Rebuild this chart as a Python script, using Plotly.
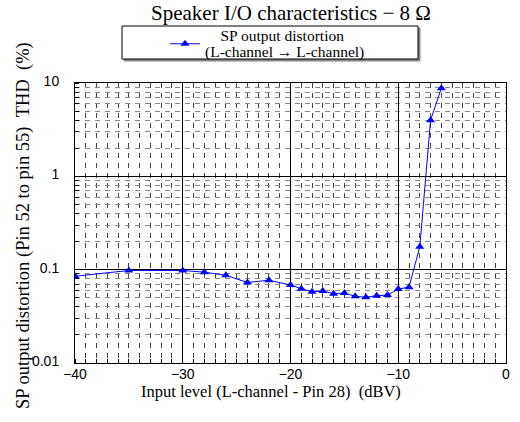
import plotly.graph_objects as go

# Data
input_level_dbv = [-40, -35, -30, -28, -26, -24, -22, -20, -19, -18, -17, -16,
                   -15, -14, -13, -12, -11, -10, -9, -8, -7, -6]
thd_percent = [0.085, 0.098, 0.098, 0.094, 0.087, 0.073, 0.077, 0.0685, 0.0625,
               0.058, 0.059, 0.0553, 0.0562, 0.0518, 0.0506, 0.0526, 0.0535,
               0.062, 0.065, 0.176, 4.0, 8.8]

x_ticks = [-40, -30, -20, -10, 0]
y_ticks = [0.01, 0.1, 1, 10]
y_tick_labels = ["0.01", "0.1", "1", "10"]

NB = "\u00a0"
title_text = "Speaker I/O characteristics \u2212 8 \u03a9"
legend_line1 = NB * 4 + "SP output distortion"
legend_line2 = "(L-channel \u2192 L-channel)"
x_title = "Input level (L-channel - Pin 28)" + NB * 2 + "(dBV)"
y_title = "SP output distortion (Pin 52 to pin 55)" + NB * 2 + "THD" + NB * 2 + "(%)"

SERIF = "Liberation Serif, Times New Roman, serif"
SANS = "Liberation Sans, Arial, sans-serif"

L, R, T, B = 75, 14, 83, 59
W, H = 520, 422
pw, ph = W - L - R, H - T - B


def px_x(v):
    return (v - L) / pw


def px_y(v):
    return (H - B - v) / ph


series_name = ('<span style="font-size:15.5px">' + legend_line1 + '</span><br>'
               '<span style="font-size:15.5px">' + legend_line2 + '</span>')

fig = go.Figure()
fig.add_trace(go.Scatter(
    x=input_level_dbv, y=thd_percent, mode="lines+markers",
    name=series_name,
    line=dict(color="#0000ff", width=1),
    marker=dict(symbol="triangle-up", size=8, color="#0000ff"),
))

# legend frame (shadow + box)
fig.add_shape(type="rect", xref="paper", yref="paper", layer="above",
              x0=px_x(124), x1=px_x(420), y0=px_y(61), y1=px_y(28),
              line=dict(color="#888888", width=1), fillcolor="#888888")
fig.add_shape(type="rect", xref="paper", yref="paper", layer="above",
              x0=px_x(122), x1=px_x(418), y0=px_y(59), y1=px_y(26),
              line=dict(color="black", width=1), fillcolor="white")

fig.add_annotation(text=x_title, xref="paper", yref="paper",
                   x=px_x(271), y=px_y(391), showarrow=False,
                   font=dict(family=SERIF, size=16.5, color="black"),
                   xanchor="center", yanchor="middle")

fig.add_annotation(text=y_title, xref="paper", yref="paper",
                   x=px_x(23), y=px_y(226), showarrow=False, textangle=-90,
                   font=dict(family=SERIF, size=18.5, color="black"),
                   xanchor="center", yanchor="middle")

minor_common = dict(showgrid=True, griddash="5px,5px", gridwidth=1,
                    ticks="inside", ticklen=4, tickcolor="black")

fig.update_layout(
    width=W, height=H,
    margin=dict(l=L, r=R, t=T, b=B, autoexpand=False),
    paper_bgcolor="white", plot_bgcolor="white",
    title=dict(text=title_text, x=px_x(291), xref="paper", xanchor="center",
               y=1 - 13 / H, yanchor="middle",
               font=dict(family=SERIF, size=21, color="black")),
    showlegend=True,
    legend=dict(x=px_x(165), y=px_y(21), xanchor="left", yanchor="top",
                bgcolor="rgba(0,0,0,0)", borderwidth=0,
                font=dict(family=SERIF, size=12.5, color="black"),
                itemwidth=30, tracegroupgap=0),
    xaxis=dict(range=[-40, 0], tickvals=x_ticks, automargin=False,
               showline=True, mirror=True, linecolor="black", linewidth=1,
               showgrid=True, gridcolor="black", gridwidth=1,
               ticks="", zeroline=False, ticklabelstandoff=-2,
               tickfont=dict(family=SANS, size=14, color="black"),
               minor=dict(dtick=1, gridcolor="#444444", **minor_common)),
    yaxis=dict(type="log", range=[-2, 1], tickvals=y_ticks, ticktext=y_tick_labels,
               automargin=False,
               showline=True, mirror=True, linecolor="black", linewidth=1,
               showgrid=True, gridcolor="black", gridwidth=1,
               ticks="", zeroline=False, ticklabelstandoff=12,
               ticklabelshift=-2,
               tickfont=dict(family=SANS, size=14, color="black"),
               minor=dict(dtick="D1", gridcolor="#888888", **minor_common)),
)

fig.write_html("out.html", config={"displayModeBar": False},
               post_script="document.body.style.margin='0';")
